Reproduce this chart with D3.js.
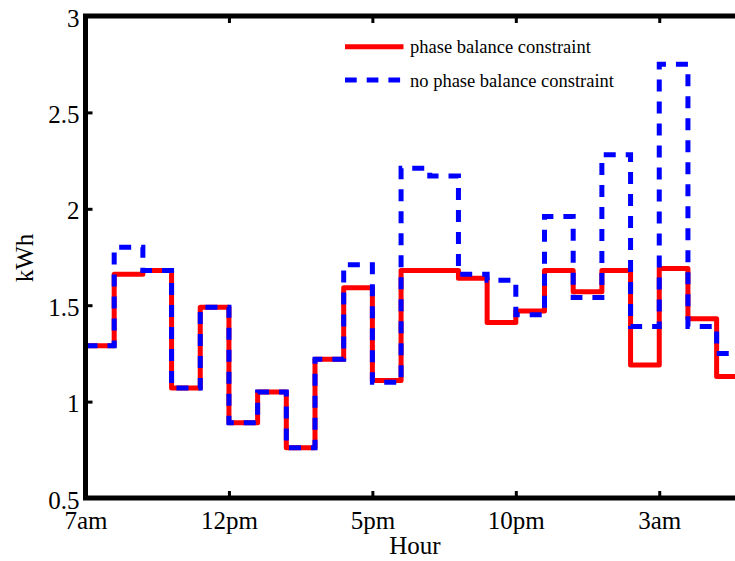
<!DOCTYPE html>
<html lang="en">
<head>
<meta charset="UTF-8">
<title>kWh per hour</title>
<script src="https://d3js.org/d3.v7.min.js"></script>
<style>
    body{ margin:0; background:#fff; }
    .chart text{ font-family:'Liberation Serif','Times New Roman',serif; fill:#000; }
    .axis text{ font-size:25px; }
    .axis .domain{ display:none; }
    .axis line{ stroke:#000; stroke-width:3; }
</style>
</head>
<body>
<svg class="chart"></svg>
<script>
    // hourly energy, one value per hour starting at 7am
    const phaseBalance   = [1.29,1.66,1.68,1.07,1.49,0.89,1.05,0.76,1.22,1.59,1.11,1.68,
                            1.68,1.64,1.41,1.47,1.68,1.57,1.68,1.19,1.69,1.43,1.13];
    const noPhaseBalance = [1.29,1.80,1.68,1.07,1.49,0.89,1.05,0.76,1.22,1.71,1.10,2.21,
                            2.17,1.66,1.63,1.45,1.96,1.54,2.28,1.39,2.75,1.39,1.25];
    const tickHours  = [0,5,10,15,20];
    const tickLabels = ['7am','12pm','5pm','10pm','3am'];
    const yTicks     = [0.5,1,1.5,2,2.5,3];

    const W=735, H=561;
    const mLeft=85.5, mTop=16, mBottom=498, mRight=774;

    const svg=d3.select('.chart').attr('width',W).attr('height',H);

    const x=d3.scaleLinear().domain([0,24]).range([mLeft,mRight]);
    const y=d3.scaleLinear().domain([0.5,3]).range([mBottom,mTop]);

    const line=d3.line()
        .x(d=>x(d[0])).y(d=>y(d[1]))
        .curve(d3.curveStepAfter);
    const pts=vals=>vals.map((v,i)=>[i,v]).concat([[vals.length,vals[vals.length-1]]]);

    svg.append('path')
        .datum(pts(phaseBalance))
        .attr('d',line)
        .attr('fill','none').attr('stroke','#ff0000')
        .attr('stroke-width',5).attr('stroke-linejoin','round');

    svg.append('path')
        .datum(pts(noPhaseBalance))
        .attr('d',line)
        .attr('fill','none').attr('stroke','#0000ff')
        .attr('stroke-width',5).attr('stroke-dasharray','12,10');

    // axes
    svg.append('g').attr('class','axis')
        .attr('transform','translate(0,'+mBottom+')')
        .call(d3.axisBottom(x).tickValues(tickHours)
              .tickFormat((d,i)=>tickLabels[i]).tickSize(-7).tickPadding(13));
    svg.append('g').attr('class','axis')
        .attr('transform','translate(0,'+mTop+')')
        .call(d3.axisTop(x).tickValues(tickHours).tickFormat('').tickSize(-7));
    svg.append('g').attr('class','axis')
        .attr('transform','translate('+mLeft+',0)')
        .call(d3.axisLeft(y).tickValues(yTicks).tickFormat(d3.format('')).tickSize(-7).tickPadding(6))
        .selectAll('text').attr('dy','0.4em');

    svg.append('rect')
        .attr('x',mLeft).attr('y',mTop)
        .attr('width',mRight-mLeft).attr('height',mBottom-mTop)
        .attr('fill','none').attr('stroke','#000').attr('stroke-width',5);

    svg.append('text').attr('x',415).attr('y',554)
        .attr('text-anchor','middle').style('font-size','25px').text('Hour');
    svg.append('text')
        .attr('transform','translate(33,258) rotate(-90)')
        .attr('text-anchor','middle').style('font-size','25px').text('kWh');

    // legend
    const legend=[
        {label:'phase balance constraint',color:'#ff0000',dash:null,y:46.7},
        {label:'no phase balance constraint',color:'#0000ff',dash:'11.7,10',y:80}
    ];
    legend.forEach(l=>{
        svg.append('line')
            .attr('x1',345).attr('x2',403.5).attr('y1',l.y).attr('y2',l.y)
            .attr('stroke',l.color).attr('stroke-width',5)
            .attr('stroke-dasharray',l.dash);
        svg.append('text')
            .attr('x',410).attr('y',l.y+6.6)
            .style('font-size','18.5px').text(l.label);
    });
</script>
</body>
</html>
